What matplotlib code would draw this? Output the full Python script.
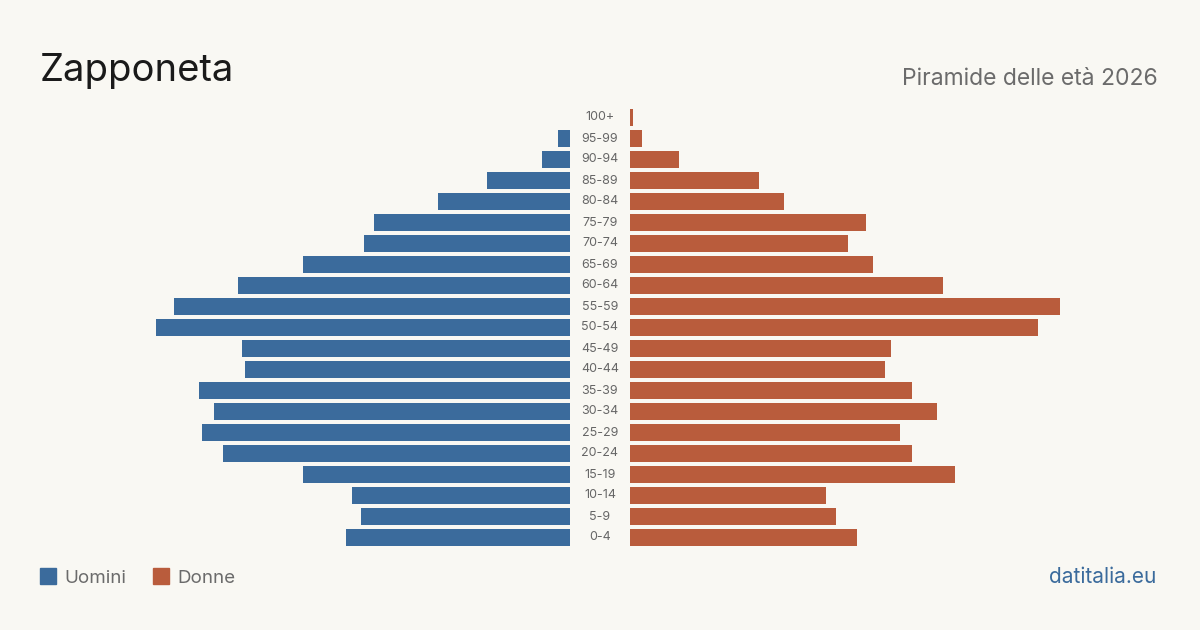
import matplotlib.pyplot as plt
import numpy as np

plt.rcParams['font.family'] = ['Inter', 'DejaVu Sans']

# classi di età, dall'alto verso il basso
ages = ['100+', '95-99', '90-94', '85-89', '80-84', '75-79', '70-74', '65-69',
        '60-64', '55-59', '50-54', '45-49', '40-44', '35-39', '30-34',
        '25-29', '20-24', '15-19', '10-14', '5-9', '0-4']
uomini = [0, 4, 9, 27, 43, 64, 67, 87, 108, 129, 135, 107, 106, 121, 116,
          120, 113, 87, 71, 68, 73]
donne = [1, 4, 16, 42, 50, 77, 71, 79, 102, 140, 133, 85, 83, 92, 100,
         88, 92, 106, 64, 67, 74]

BG = '#f9f8f3'
BLUE = '#3b6b9c'
RED = '#b95c3c'

W, H = 1200, 630
fig = plt.figure(figsize=(12, 6.3), dpi=100, facecolor=BG)

px_per_unit = 3.07
half_w = 530
top, bottom = 107, 548
xmax = half_w / px_per_unit

axl = fig.add_axes([(570 - half_w) / W, 1 - bottom / H, half_w / W, (bottom - top) / H])
axr = fig.add_axes([630 / W, 1 - bottom / H, half_w / W, (bottom - top) / H])

y = np.arange(len(ages))
for ax in (axl, axr):
    ax.set_facecolor(BG)
    ax.set_ylim(len(ages) - 0.5, -0.5)
    ax.set_xlim(0, xmax)
    ax.axis('off')
axl.invert_xaxis()

axl.barh(y, uomini, height=0.78, color=BLUE)
axr.barh(y, donne, height=0.78, color=RED)

for i, a in enumerate(ages):
    axr.annotate(a, xy=(0, i), xycoords='data', xytext=(-30, 0),
                 textcoords='offset pixels', ha='center', va='center',
                 fontsize=9, color='#666666', annotation_clip=False)

fig.text(40 / W, 1 - 81 / H, 'Zapponeta', fontsize=27.5, color='#1a1a1a',
         ha='left', va='baseline')
fig.text(1158 / W, 1 - 85 / H, 'Piramide delle età 2026', fontsize=16.5,
         color='#6b6b6b', ha='right', va='baseline')

# legenda
fig.patches.append(plt.Rectangle((40 / W, 1 - 584 / H), 16 / W, 16 / H,
                                 transform=fig.transFigure, color=BLUE))
fig.text(64 / W, 1 - 583 / H, 'Uomini', fontsize=13.5, color='#6b6b6b',
         ha='left', va='baseline')
fig.patches.append(plt.Rectangle((153 / W, 1 - 584 / H), 16 / W, 16 / H,
                                 transform=fig.transFigure, color=RED))
fig.text(177 / W, 1 - 583 / H, 'Donne', fontsize=13.5, color='#6b6b6b',
         ha='left', va='baseline')

fig.text(1156 / W, 1 - 583 / H, 'datitalia.eu', fontsize=15, color='#3b6b9c',
         ha='right', va='baseline')

fig.savefig('out.png', dpi=100, facecolor=BG)
